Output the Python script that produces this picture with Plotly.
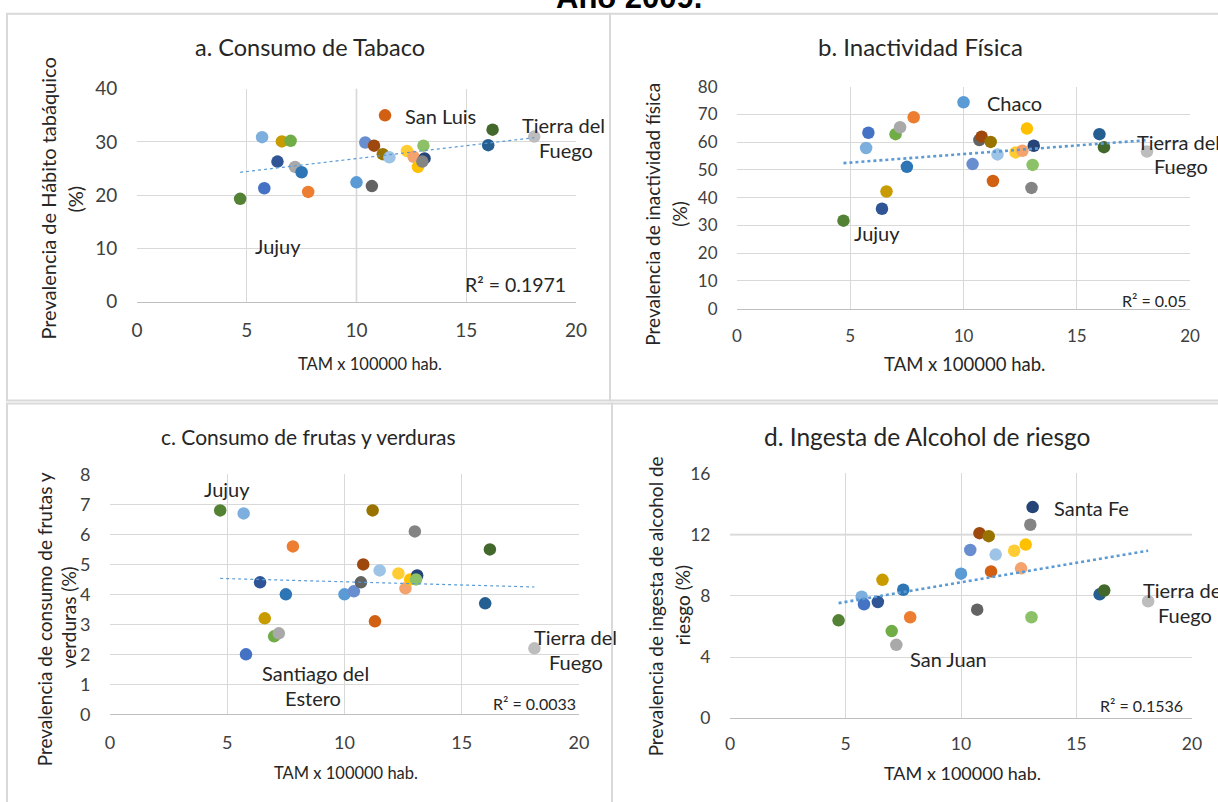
import numpy as np
import plotly.graph_objects as go

W, H = 1218, 802

# ---------------- data ----------------
tam = [4.7, 5.7, 5.8, 6.4, 6.6, 7.0, 7.2, 7.5, 7.8, 10.0, 10.4, 10.7, 10.8,
       11.2, 11.3, 11.5, 12.3, 12.6, 12.8, 13.1, 13.0, 13.05, 16.0, 16.2, 18.1]

tabaco = [19.3, 30.9, 21.3, 26.3, 30.1, 30.2, 25.3, 24.3, 20.6, 22.4, 29.9, 21.7, 29.3,
          27.7, 35.0, 27.1, 28.3, 27.2, 25.3, 26.9, 26.3, 29.3, 29.4, 32.3, 31.0]

inactividad = [31.7, 57.9, 63.4, 36.0, 42.2, 62.9, 65.4, 51.1, 69.0, 74.4, 52.1, 60.8, 62.0,
               60.1, 46.0, 55.6, 56.3, 56.9, 64.9, 58.7, 43.5, 51.8, 62.9, 58.2, 56.6]

frutas = [6.8, 6.7, 2.0, 4.4, 3.2, 2.6, 2.7, 4.0, 5.6, 4.0, 4.1, 4.4, 5.0,
          6.8, 3.1, 4.8, 4.7, 4.2, 4.5, 4.63, 6.1, 4.5, 3.7, 5.5, 2.2]

alcohol = [6.4, 7.95, 7.45, 7.6, 9.05, 5.7, 4.8, 8.4, 6.6, 9.45, 11.0, 7.1, 12.1,
           11.9, 9.6, 10.7, 10.95, 9.8, 11.35, 13.8, 12.65, 6.6, 8.1, 8.35, 7.65]

colores = ["#548235", "#7CAFDD", "#4472C4", "#2F5597", "#C89B00", "#70AD47",
           "#A9A9A9", "#2E75B6", "#ED7D31", "#5B9BD5", "#698ED0", "#636363",
           "#9E480E", "#997300", "#D26012", "#9DC3E6", "#FFCD33", "#F4A36C",
           "#FFC000", "#264478", "#848484", "#8CC168", "#255E91", "#43682B",
           "#BDBDBD"]

titulos = ["a. Consumo de Tabaco", "b. Inactividad Física",
           "c. Consumo de frutas y verduras", "d. Ingesta de Alcohol de riesgo"]
ytit1 = ["Prevalencia de Hábito tabáquico", "Prevalencia de inactividad física",
         "Prevalencia de consumo de frutas y", "Prevalencia de ingesta de alcohol de"]
ytit2 = ["(%)", "(%)", "verduras (%)", "riesgo (%)"]
xtit = "TAM x 100000 hab."
r2_txt = ["R² = 0.1971", "R² = 0.05", "R² = 0.0033", "R² = 0.1536"]
yranges = [[0, 40], [0, 80], [0, 8], [0, 16]]
ydticks = [10, 10, 1, 4]
xticks_vals = [0, 5, 10, 15, 20]

# ---------------- layout geometry (target pixels) ----------------
FONT = "Lato, 'Noto Sans', sans-serif"
TXT = "#262626"
plot_px = [  # x0, x1, ytop, ybottom
    (137, 576, 88, 301),
    (737, 1190, 86, 308),
    (110, 579, 474, 714),
    (730, 1192, 473, 718),
]
tick_sizes = [19, 17, 18, 17.5]
title_pos = [(310, 46), (920, 46), (309, 436), (927, 436)]
title_size = [23.5, 24, 21, 24.5]
xtit_pos = [(370, 363), (964, 363), (346, 773), (962, 773)]
xtit_size = [16.5, 18.5, 16.5, 18]
ytit_pos1 = [(48, 198), (653, 214), (44, 619), (655, 606)]
ytit_pos2 = [(75, 198), (680, 214), (68, 617), (682, 605)]
ytit_size = [20, 19, 19, 19]
r2_pos = [(568, 284), (1188, 300), (578, 703), (1185, 705)]
r2_size = [19.5, 16, 16, 16]
trend_w = [1.2, 2.6, 1.2, 2.6]
xtick_len = [12, 12, 12, 10]

labels = [
    [("San Luis", 403, 115), ("Tierra del", 520, 124), ("Fuego", 537, 149), ("Jujuy", 253, 245)],
    [("Chaco", 985, 102), ("Tierra del", 1135, 141), ("Fuego", 1152, 165), ("Jujuy", 852, 232)],
    [("Jujuy", 202, 489), ("Santiago del", 260, 673), ("Estero", 283, 698),
     ("Tierra del", 532, 637), ("Fuego", 547, 662)],
    [("Santa Fe", 1052, 508), ("San Juan", 908, 659), ("Tierra del", 1141, 590), ("Fuego", 1156, 615)],
]

# the photographed page comes out slightly shrunk about its centre; compensate
SX, SY, CX, CY = 0.986, 0.972, 609.0, 401.0
DX = 2.5

def px(x):
    return (CX + (x + DX - CX) / SX) / W

def py(y):
    return 1 - (CY + (y - CY) / SY) / H

fig = go.Figure()
series = [tabaco, inactividad, frutas, alcohol]
annotations = []
shapes = []

for i, ys in enumerate(series):
    n = "" if i == 0 else str(i + 1)
    xa, ya = "x" + n, "y" + n
    x0, x1, yt, yb = plot_px[i]
    fig.add_trace(go.Scatter(
        x=tam, y=ys, mode="markers", xaxis=xa, yaxis=ya,
        marker=dict(size=12.5, color=colores, line=dict(width=0)),
        showlegend=False, hoverinfo="x+y"))
    a, b = np.polyfit(tam, ys, 1)
    xs = np.array([min(tam), max(tam)])
    fig.add_trace(go.Scatter(
        x=xs, y=a * xs + b, mode="lines", xaxis=xa, yaxis=ya,
        line=dict(color="#5B9BD5", width=trend_w[i], dash="dot"),
        showlegend=False, hoverinfo="skip"))
    fig.layout["xaxis" + n] = dict(
        domain=[px(x0), px(x1)], range=[0, 20], tickvals=xticks_vals,
        anchor=ya, showgrid=True, gridcolor="#D9D9D9", gridwidth=1,
        zeroline=False, showline=True, linecolor="#BFBFBF", linewidth=1,
        ticks="outside", ticklen=xtick_len[i], tickcolor="rgba(0,0,0,0)",
        tickfont=dict(family=FONT, size=tick_sizes[i], color="#404040"),
        fixedrange=True)
    fig.layout["yaxis" + n] = dict(
        domain=[py(yb), py(yt)], range=yranges[i], dtick=ydticks[i],
        anchor=xa, showgrid=True, gridcolor="#D9D9D9", gridwidth=1,
        zeroline=False, showline=False,
        ticks="outside", ticklen=15, tickcolor="rgba(0,0,0,0)",
        tickfont=dict(family=FONT, size=tick_sizes[i], color="#404040"),
        fixedrange=True)

    tx, ty = title_pos[i]
    annotations.append(dict(text=titulos[i], x=px(tx), y=py(ty), xref="paper", yref="paper",
                            showarrow=False, xanchor="center", yanchor="middle",
                            font=dict(family=FONT, size=title_size[i], color=TXT)))
    tx, ty = xtit_pos[i]
    annotations.append(dict(text=xtit, x=px(tx), y=py(ty), xref="paper", yref="paper",
                            showarrow=False, xanchor="center", yanchor="middle",
                            font=dict(family=FONT, size=xtit_size[i], color=TXT)))
    for txt, pos in ((ytit1[i], ytit_pos1[i]), (ytit2[i], ytit_pos2[i])):
        annotations.append(dict(text=txt, x=px(pos[0]), y=py(pos[1]), xref="paper", yref="paper",
                                showarrow=False, xanchor="center", yanchor="middle", textangle=-90,
                                font=dict(family=FONT, size=ytit_size[i], color=TXT)))
    tx, ty = r2_pos[i]
    annotations.append(dict(text=r2_txt[i], x=px(tx), y=py(ty), xref="paper", yref="paper",
                            showarrow=False, xanchor="right", yanchor="middle",
                            font=dict(family=FONT, size=r2_size[i], color=TXT)))
    for txt, lx, ly in labels[i]:
        annotations.append(dict(text=txt, x=px(lx), y=py(ly), xref="paper", yref="paper",
                                showarrow=False, xanchor="left", yanchor="middle",
                                font=dict(family=FONT, size=20, color=TXT)))

# slightly emphasised grid lines seen in the reference
shapes.append(dict(type="line", xref="x", yref="paper", x0=10, x1=10,
                   y0=py(301), y1=py(88), line=dict(color="#D2D2D2", width=1.6), layer="below"))
shapes.append(dict(type="line", xref="paper", yref="y4", x0=px(730), x1=px(1192),
                   y0=12, y1=12, line=dict(color="#D2D2D2", width=1.6), layer="below"))

# panel borders
for (bx0, by0, bx1, by1) in [(7, 13, 610, 400), (610, 13, 1230, 400),
                             (7, 403, 612, 815), (612, 403, 1230, 815)]:
    shapes.append(dict(type="rect", xref="paper", yref="paper",
                       x0=px(bx0), x1=px(bx1), y0=py(by1), y1=py(by0),
                       line=dict(color="#D9D9D9", width=2), fillcolor="rgba(0,0,0,0)"))

# main title, clipped at the very top as in the reference
annotations.append(dict(text="<b>Año 2009.</b>", x=px(629), y=py(-3), xref="paper", yref="paper",
                        showarrow=False, xanchor="center", yanchor="middle",
                        font=dict(family="Liberation Sans, Arial, sans-serif", size=31, color="#000000")))

fig.update_layout(width=W, height=H, margin=dict(l=0, r=0, t=0, b=0),
                  paper_bgcolor="white", plot_bgcolor="white",
                  annotations=annotations, shapes=shapes, showlegend=False)

fig.write_html("out.html", config={"displayModeBar": False},
               post_script="document.body.style.margin='0';document.body.style.padding='0';")
